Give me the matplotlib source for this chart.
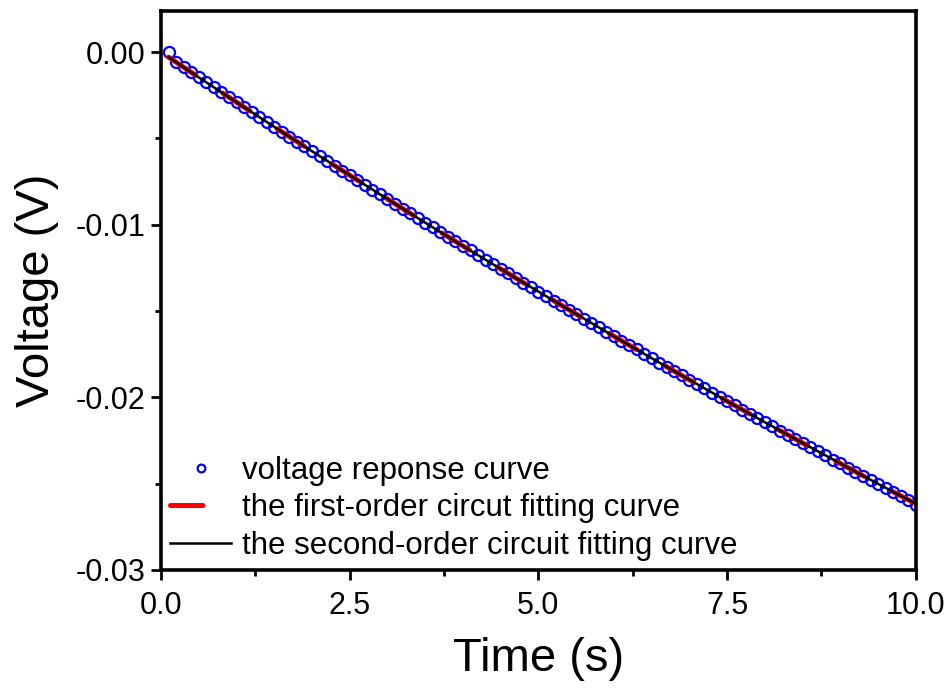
import matplotlib
matplotlib.use('Agg')
import matplotlib.pyplot as plt
from matplotlib.ticker import MultipleLocator, FormatStrFormatter

# measured response, t = 0.1 ... 10.0 s every 0.1 s
t_data = [round(0.1 * i, 1) for i in range(1, 101)]
v_data = [
    0.00000, -0.00059, -0.00088, -0.00117, -0.00146, -0.00175, -0.00204, -0.00233, -0.00261, -0.00290,
    -0.00319, -0.00347, -0.00376, -0.00404, -0.00433, -0.00461, -0.00489, -0.00518, -0.00546, -0.00574,
    -0.00602, -0.00630, -0.00658, -0.00686, -0.00713, -0.00741, -0.00769, -0.00796, -0.00824, -0.00851,
    -0.00879, -0.00906, -0.00933, -0.00961, -0.00988, -0.01015, -0.01042, -0.01069, -0.01096, -0.01123,
    -0.01149, -0.01176, -0.01203, -0.01229, -0.01256, -0.01282, -0.01309, -0.01335, -0.01361, -0.01387,
    -0.01413, -0.01440, -0.01466, -0.01492, -0.01517, -0.01543, -0.01569, -0.01595, -0.01620, -0.01646,
    -0.01671, -0.01697, -0.01722, -0.01747, -0.01773, -0.01798, -0.01823, -0.01848, -0.01873, -0.01898,
    -0.01923, -0.01948, -0.01972, -0.01997, -0.02022, -0.02046, -0.02071, -0.02095, -0.02119, -0.02144,
    -0.02168, -0.02192, -0.02216, -0.02240, -0.02264, -0.02288, -0.02312, -0.02336, -0.02360, -0.02383,
    -0.02407, -0.02430, -0.02454, -0.02477, -0.02501, -0.02524, -0.02547, -0.02570, -0.02593, -0.02625,
]

# fitted curves
t_fit = [0.1, 0.5, 1.0, 1.5, 2.0, 2.5, 3.0, 3.5, 4.0, 4.5, 5.0,
         5.5, 6.0, 6.5, 7.0, 7.5, 8.0, 8.5, 9.0, 9.5, 10.0]
v_first = [-0.00029, -0.00146, -0.00290, -0.00433, -0.00574, -0.00713, -0.00851,
           -0.00988, -0.01123, -0.01256, -0.01387, -0.01517, -0.01646, -0.01773,
           -0.01898, -0.02022, -0.02144, -0.02264, -0.02383, -0.02501, -0.02616]
v_second = [-0.00029, -0.00146, -0.00290, -0.00433, -0.00574, -0.00713, -0.00851,
            -0.00988, -0.01123, -0.01256, -0.01387, -0.01517, -0.01646, -0.01773,
            -0.01898, -0.02022, -0.02144, -0.02264, -0.02383, -0.02501, -0.02616]

plt.rcParams['font.family'] = ['Liberation Sans', 'DejaVu Sans']
plt.rcParams['axes.unicode_minus'] = False

fig = plt.figure(figsize=(9.53, 6.93), dpi=100)
ax = fig.add_axes([0.169, 0.1775, 0.792, 0.807])

ax.plot(t_data, v_data, 'o', ms=8, mfc='none', mec='#0000ff', mew=1.6,
        label='voltage reponse curve')
ax.plot(t_fit, v_first, color='#ff0000', lw=3.6, dashes=(6.5, 6.5),
        dash_capstyle='round', label='the first-order circut fitting curve')
ax.plot(t_fit, v_second, color='k', lw=1.8,
        label='the second-order circuit fitting curve')

ax.set_xlim(0, 10)
ax.set_ylim(-0.03, 0.0024)
ax.xaxis.set_major_locator(MultipleLocator(2.5))
ax.xaxis.set_minor_locator(MultipleLocator(1.25))
ax.yaxis.set_major_locator(MultipleLocator(0.01))
ax.yaxis.set_minor_locator(MultipleLocator(0.005))
ax.xaxis.set_major_formatter(FormatStrFormatter('%.1f'))
ax.yaxis.set_major_formatter(FormatStrFormatter('%.2f'))

for s in ax.spines.values():
    s.set_linewidth(2.6)
ax.tick_params(which='major', direction='out', length=7, width=2, labelsize=22)
ax.tick_params(axis='x', which='major', pad=8)
ax.tick_params(axis='y', which='major', pad=4)
ax.tick_params(which='minor', direction='out', length=4.5, width=2)

ax.set_xlabel('Time (s)', fontsize=34, labelpad=12)
ax.set_ylabel('Voltage (V)', fontsize=34, labelpad=12)

ax.legend(loc='lower left', frameon=False, fontsize=22.5, markerscale=0.7,
          handlelength=1.95, handletextpad=0.35, borderpad=0.0,
          borderaxespad=0.3, labelspacing=0.24)

fig.savefig('out.png', dpi=100)
